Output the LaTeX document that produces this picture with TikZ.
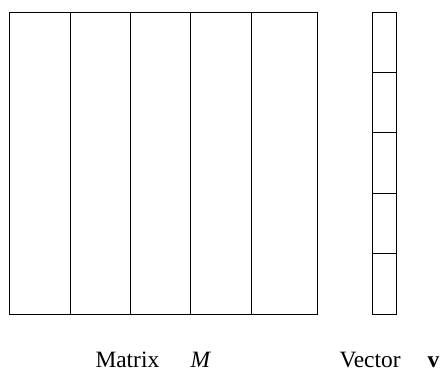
\documentclass[tikz,border=0pt]{standalone}
\usepackage{fontspec}
\setmainfont{Liberation Serif}
\begin{document}
\begin{tikzpicture}[x=1bp,y=-1bp,line width=1bp,
  box/.style={draw=black,line width=1bp},
  lbl/.style={anchor=base west,inner sep=0pt,font=\fontsize{23.5}{28}\selectfont}]
\useasboundingbox (0,0) rectangle (440,371);
% matrix
\draw[box] (9.5,12) rectangle (317.5,314);
\foreach \x in {70,130.3,190.8,251.3} \draw[box] (\x,12) -- (\x,314);
% vector
\draw[box] (372.3,12) rectangle (396.7,314);
\foreach \y in {72.3,132.3,193,253.3} \draw[box] (372.3,\y) -- (396.7,\y);
% labels
\node[lbl] (mtxt) at (95,367) {Matrix};
\node[lbl] (msym) at (190,367) {\textit{M}};
\node[lbl] (vtxt) at (339,367) {Vector};
\node[lbl] (vsym) at (427,367) {\textbf{v}};
\end{tikzpicture}
\end{document}
